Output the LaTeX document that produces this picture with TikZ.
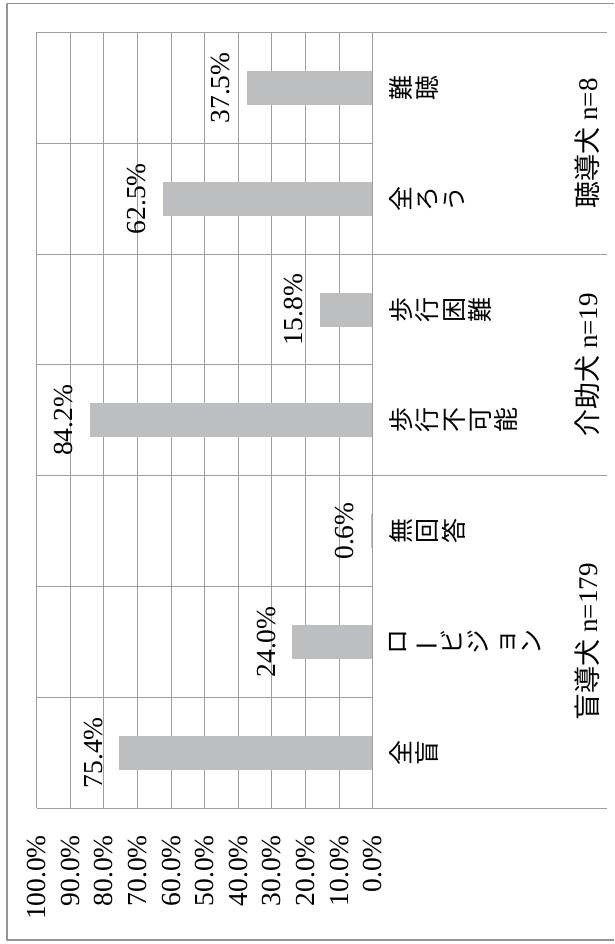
\documentclass[tikz,border=0pt]{standalone}
\usepackage{fontspec}
\usepackage{graphicx}
\usepackage{xcolor}
\setmainfont{Liberation Serif}
\newfontfamily\cjk{Noto Sans CJK JP}
\usepackage{tikz}
\definecolor{gridgray}{RGB}{158,158,160}
\definecolor{bargray}{RGB}{189,190,192}
\definecolor{framegray}{RGB}{150,150,152}
\tikzset{
    grid_line/.style={gridgray, line width=1.1pt},
    bar_fill/.style={fill=bargray},
    pct_label/.style={rotate=90, anchor=base, inner sep=0pt, font=\fontsize{27.5}{29}\selectfont},
    tick_label/.style={rotate=90, anchor=east, inner sep=0pt, font=\fontsize{27.5}{29}\selectfont},
    cat_label/.style={rotate=90, anchor=north, inner sep=0pt, align=center, font=\cjk\fontsize{25}{26.4}\selectfont},
    group_label/.style={rotate=90, anchor=base, inner sep=0pt, font=\fontsize{27}{29}\selectfont}
}

\begin{document}
\begin{tikzpicture}[x=1pt, y=-1pt]
    \useasboundingbox (0,0) rectangle (614,944);
    % outer frame
    \draw[framegray, line width=1.3pt] (614,3.3) -- (7,3.3) -- (7,940) -- (614,940);
    % value grid (10% steps)
    \foreach \k in {1,...,10}
        \draw[grid_line] ({372.7-33.6*\k},32.5) -- ({372.7-33.6*\k},808.1);
    \foreach \j in {1,3,5,6}
        \draw[grid_line] (36.7,{32.5+110.8*\j}) -- (372.7,{32.5+110.8*\j});
    % group separators run through the label columns
    \foreach \j in {0,2,4,7}
        \draw[grid_line] (36.7,{32.5+110.8*\j}) -- (607,{32.5+110.8*\j});
    % bars and their values
    \foreach \v [count=\i] in {37.5,62.5,15.8,84.2,0.6,24.0,75.4} {
        \fill[bar_fill] ({372.7-3.36*\v},{32.5+110.8*(\i-0.5)-17}) rectangle (372.7,{32.5+110.8*(\i-0.5)+17});
        \node[pct_label] (pct\i) at ({372.7-3.36*\v-17},{32.5+110.8*(\i-0.5)}) {\v\%};
    }
    % 0% axis
    \draw[grid_line] (372.7,32.5) -- (372.7,808.1);
    % tick labels
    \foreach \t [count=\k from 0] in {0.0,10.0,20.0,30.0,40.0,50.0,60.0,70.0,80.0,90.0,100.0}
        \node[tick_label] (tick\k) at ({372.7-33.6*\k},835) {\t\%};
    % categories
    \node[cat_label] (cat_nancho) at (389,87.9) {難\\聴};
    \node[cat_label] (cat_zenro) at (389,198.7) {全\\ろ\\う};
    \node[cat_label] (cat_konnan) at (389,309.5) {歩\\行\\困\\難};
    \node[cat_label] (cat_fukano) at (389,420.3) {歩\\行\\不\\可\\能};
    \node[cat_label] (cat_mukaito) at (389,531.1) {無\\回\\答};
    \node[cat_label] (cat_lowvision) at (389,641.9) {ロ\\\rotatebox[origin=c]{90}{ー}\\ビ\\ジ\\ョ\\ン};
    \node[cat_label] (cat_zenmo) at (389,752.7) {全\\盲};
    % dog groups
    \node[group_label] (grp_hearing) at (597.5,143.3) {{\cjk 聴導犬} n=8};
    \node[group_label] (grp_service) at (597.5,364.9) {{\cjk 介助犬} n=19};
    \node[group_label] (grp_guide) at (597.5,641.9) {{\cjk 盲導犬} n=179};
\end{tikzpicture}
\end{document}
